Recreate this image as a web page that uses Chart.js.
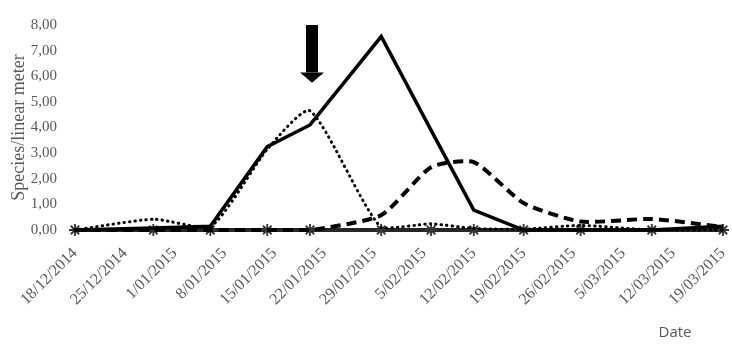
<!DOCTYPE html>
<html>
<head>
<meta charset="utf-8">
<script src="https://cdn.jsdelivr.net/npm/chart.js@4"></script>
<style>
  html, body { margin: 0; padding: 0; background: #fff; }
  canvas { display: block; }
</style>
</head>
<body>
<canvas id="chart" width="732" height="344"></canvas>
<script>
// sampling dates
const sampleDates = ['18/12/2014', '29/12/2014', '6/01/2015', '14/01/2015', '20/01/2015', '30/01/2015',
  '6/02/2015', '12/02/2015', '19/02/2015', '27/02/2015', '9/03/2015', '19/03/2015']
const weekLabels = ['18/12/2014', '25/12/2014', '1/01/2015', '8/01/2015', '15/01/2015', '22/01/2015',
  '29/01/2015', '5/02/2015', '12/02/2015', '19/02/2015', '26/02/2015', '5/03/2015', '12/03/2015', '19/03/2015']

const solidValues  = [0, 0.08, 0.15, 3.25, 4.1, 7.55, 3.9, 0.78, 0, 0, 0, 0.15]
const dottedValues = [0, 0.42, 0.12, 3.15, 4.65, 0.1, 0.24, 0.06, 0.03, 0.18, 0, 0]
const dashedValues = [0, 0, 0, 0, 0, 0.58, 2.45, 2.65, 1.05, 0.33, 0.43, 0.12]
const zeroValues   = [0, 0, 0, 0, 0, 0, 0, 0, 0, 0, 0, 0]

const arrowDate = '20/01/2015'
const arrowFrom = 8.0, arrowHead = 6.15, arrowTip = 5.75

const toDay = (s) => {
  const [d, m, y] = s.split('/').map(Number)
  return (Date.UTC(y, m - 1, d) - Date.UTC(2014, 11, 18)) / 86400000
}
const days = sampleDates.map(toDay)
const pts = (vals) => vals.map((v, i) => ({ x: days[i], y: v }))

const grey = '#595959'
const serif = "'Liberation Serif', 'DejaVu Serif', serif"

const arrowPlugin = {
  id: 'arrow',
  afterDatasetsDraw(chart) {
    const { ctx, scales: { x, y } } = chart
    const cx = x.getPixelForValue(toDay(arrowDate)) + 2
    const top = y.getPixelForValue(arrowFrom),
          hy = y.getPixelForValue(arrowHead),
          tip = y.getPixelForValue(arrowTip)
    ctx.save()
    ctx.fillStyle = '#000'
    ctx.fillRect(cx - 6, top, 12, hy - top)
    ctx.beginPath()
    ctx.moveTo(cx - 12, hy)
    ctx.lineTo(cx + 12, hy)
    ctx.lineTo(cx, tip)
    ctx.closePath()
    ctx.fill()
    // x axis title, sits right of centre in the original
    ctx.fillStyle = grey
    ctx.font = "15px 'Open Sans', 'Liberation Sans', sans-serif"
    ctx.textAlign = 'center'
    ctx.textBaseline = 'middle'
    ctx.fillText('Date', 675, 333)
    ctx.restore()
  }
}

new Chart(document.getElementById('chart').getContext('2d'), {
  type: 'line',
  data: {
    datasets: [
      { data: pts(solidValues), borderColor: '#000', borderWidth: 3.5, pointRadius: 0, tension: 0, order: 1, clip: false },
      { data: pts(dottedValues), borderColor: '#000', borderWidth: 3, borderDash: [0.5, 5], borderCapStyle: 'round',
        pointRadius: 0, tension: 0.2, order: 2, clip: false },
      { data: pts(dashedValues), borderColor: '#000', borderWidth: 4, borderDash: [10, 6],
        pointRadius: 0, tension: 0.2, order: 3, clip: false },
      { data: pts(zeroValues), borderColor: '#262626', borderWidth: 4, pointStyle: 'star', pointRadius: 6,
        pointBorderColor: '#333', pointBorderWidth: 1.8, tension: 0, order: 4, clip: false }
    ]
  },
  options: {
    responsive: false,
    animation: false,
    devicePixelRatio: 1,
    layout: { padding: { top: 25, right: 9, left: 8, bottom: 0 } },
    plugins: { legend: { display: false }, tooltip: { enabled: false } },
    scales: {
      x: {
        type: 'linear', min: 0, max: 91,
        grid: { display: false }, border: { display: false },
        ticks: {
          stepSize: 7, autoSkip: false, maxRotation: 45, minRotation: 45, padding: 6,
          color: grey, font: { family: serif, size: 16 },
          callback: (v) => weekLabels[Math.round(v / 7)]
        },
        afterFit: (s) => { s.height = 114; s.paddingLeft = 0; s.paddingRight = 0 }
      },
      y: {
        min: 0, max: 8,
        grid: { display: false }, border: { display: false },
        ticks: {
          stepSize: 1, padding: 10, color: grey, font: { family: serif, size: 15 },
          callback: (v) => v.toFixed(2).replace('.', ',')
        },
        title: { display: true, text: 'Species/linear meter', color: grey, font: { family: serif, size: 18 }, padding: 0 },
        afterFit: (s) => { s.width = 67; s.paddingTop = 0; s.paddingBottom = 0 }
      }
    }
  },
  plugins: [arrowPlugin]
})
</script>
</body>
</html>
